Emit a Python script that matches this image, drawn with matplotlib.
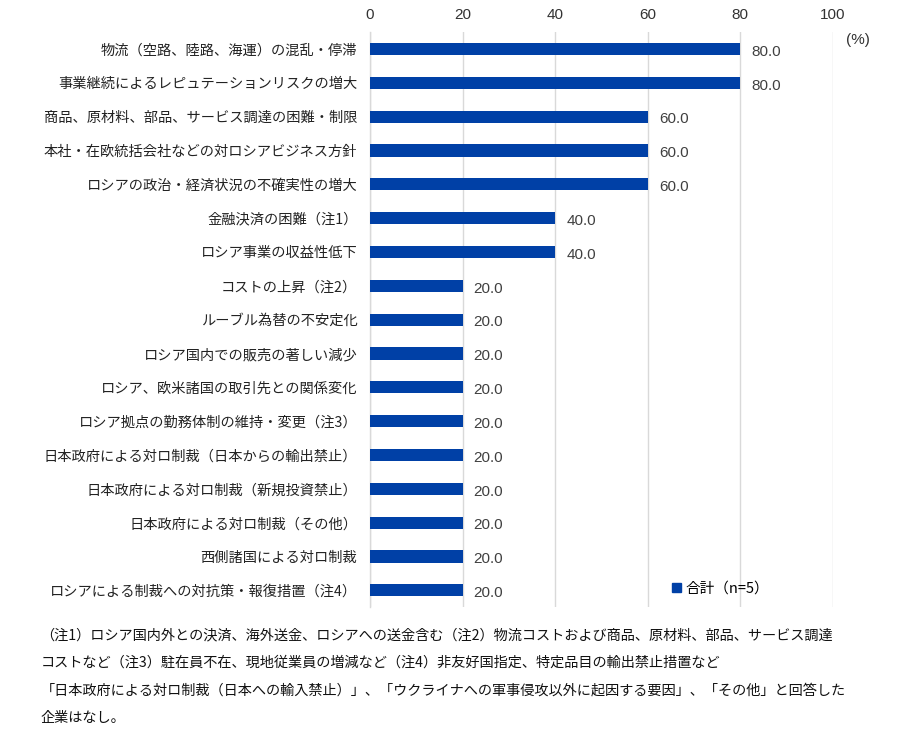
import matplotlib
matplotlib.use("Agg")
from matplotlib import pyplot as plt
from matplotlib.patches import Patch

plt.rcParams['font.family'] = ['Noto Sans CJK JP', 'DejaVu Sans']

# data (percent of companies, n=5)
categories = [
    "物流（空路、陸路、海運）の混乱・停滞",
    "事業継続によるレピュテーションリスクの増大",
    "商品、原材料、部品、サービス調達の困難・制限",
    "本社・在欧統括会社などの対ロシアビジネス方針",
    "ロシアの政治・経済状況の不確実性の増大",
    "金融決済の困難（注1）",
    "ロシア事業の収益性低下",
    "コストの上昇（注2）",
    "ルーブル為替の不安定化",
    "ロシア国内での販売の著しい減少",
    "ロシア、欧米諸国の取引先との関係変化",
    "ロシア拠点の勤務体制の維持・変更（注3）",
    "日本政府による対ロ制裁（日本からの輸出禁止）",
    "日本政府による対ロ制裁（新規投資禁止）",
    "日本政府による対ロ制裁（その他）",
    "西側諸国による対ロ制裁",
    "ロシアによる制裁への対抗策・報復措置（注4）",
]
values = [80.0, 80.0, 60.0, 60.0, 60.0, 40.0, 40.0, 20.0, 20.0, 20.0,
          20.0, 20.0, 20.0, 20.0, 20.0, 20.0, 20.0]
xticks = [0, 20, 40, 60, 80, 100]
series_name = "合計（n=5）"

notes = [
    "（注1）ロシア国内外との決済、海外送金、ロシアへの送金含む（注2）物流コストおよび商品、原材料、部品、サービス調達",
    "コストなど（注3）駐在員不在、現地従業員の増減など（注4）非友好国指定、特定品目の輸出禁止措置など",
    "「日本政府による対ロ制裁（日本への輸入禁止）」、「ウクライナへの軍事侵攻以外に起因する要因」、「その他」と回答した",
    "企業はなし。",
]

bar_color = "#0040A6"
grid_color = "#D9D9D9"
num_font = ['Liberation Sans', 'DejaVu Sans']

fig = plt.figure(figsize=(9, 7.29), dpi=100)
ax = fig.add_axes([0.411, 0.167, 0.5145, 0.789])

pos = list(range(len(categories)))
ax.barh(pos, values, height=0.36, color=bar_color, zorder=3)
for p, v in zip(pos, values):
    ax.text(v + 2.4, p + 0.08, "%.1f" % v, va="center", ha="left",
            fontsize=11, color="#404040", family=num_font)

ax.set_xlim(0, 100)
ax.set_ylim(len(categories) - 0.5, -0.5)
ax.set_xticks(xticks)
ax.set_xticklabels([str(t) for t in xticks], family=num_font)
ax.xaxis.tick_top()
ax.tick_params(axis="x", length=0, pad=7, labelsize=11, colors="#333333")
ax.set_yticks(pos)
ax.set_yticklabels(categories, fontsize=10.25, color="#222222")
ax.tick_params(axis="y", length=0, pad=9)
ax.grid(axis="x", color=grid_color, linewidth=1, zorder=0)
for s in ["top", "right", "bottom"]:
    ax.spines[s].set_visible(False)
ax.spines["left"].set_color(grid_color)
ax.spines["left"].set_linewidth(1)

fig.text(0.953, 0.945, "(%)", ha="center", va="center", fontsize=11,
         color="#333333", family=num_font)

leg = ax.legend(handles=[Patch(color=bar_color, label=series_name)],
                loc="center left", bbox_to_anchor=(0.625, 0.033), frameon=False,
                fontsize=10.5, handlelength=0.6, handleheight=0.6, handletextpad=0.3)

y0 = 0.128
for i, line in enumerate(notes):
    fig.text(0.045, y0 - i * 0.0375, line, ha="left", va="center",
             fontsize=10.2, color="#111111")

fig.savefig("out.png", dpi=100)
